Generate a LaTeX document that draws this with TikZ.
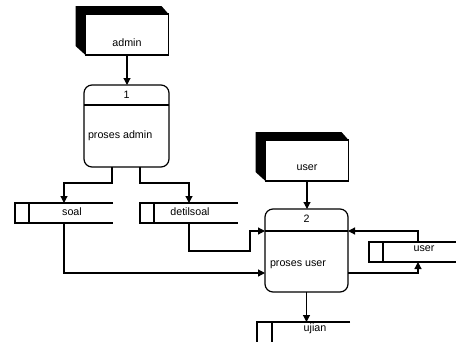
\documentclass[tikz,border=0pt]{standalone}
\usepackage{fontspec}
\setmainfont{Liberation Sans}
\usetikzlibrary{calc,arrows.meta,backgrounds}
\begin{document}
\begin{tikzpicture}[x=1pt,y=-1pt,
  line width=1.2pt,
  every node/.style={font=\fontsize{10.7}{12}\selectfont, inner sep=0pt, outer sep=0pt},
  entbox/.style={draw, fill=white, minimum width=83pt, minimum height=41pt},
  procbox/.style={draw, rounded corners=8pt, minimum width=85pt, minimum height=82pt},
  storebox/.style={minimum height=20pt},
  flow/.style={-{Triangle[length=7pt,width=7pt]}},
]
\useasboundingbox (0,0) rectangle (456,341);
\clip (0,0) rectangle (456,341);

% external entities
\node[entbox] (admin) at (127,34.5) {};
\node at ($(admin.center)+(0,8)$) {admin};
\node[entbox] (uent) at (307,160.5) {};
\node at ($(uent.center)+(0,7)$) {user};
\begin{scope}[on background layer]
\foreach \e in {admin,uent}{
  \fill ($(\e.north west)+(-10,-8)$) -- ($(\e.north east)+(-7,-8)$) -- (\e.north east)
        -- (\e.north west) -- (\e.south west) -- ($(\e.south west)+(-10,-9)$) -- cycle;
}
\end{scope}

% processes
\node[procbox] (p1) at (126.5,126) {};
\draw ($(p1.north west)+(0,20)$) -- ($(p1.north east)+(0,20)$);
\node at ($(p1.north)+(0,10)$) {1};
\node[anchor=west] at ($(p1.west)+(4,10)$) {proses admin};

\node[procbox, minimum width=83pt, minimum height=83pt] (p2) at (306.5,250.5) {};
\draw ($(p2.north west)+(0,22)$) -- ($(p2.north east)+(0,22)$);
\node at ($(p2.north)+(0,10)$) {2};
\node[anchor=west] at ($(p2.west)+(5,14)$) {proses user};

% data stores
\node[storebox, minimum width=98pt] (soal) at (64,213) {};
\draw (soal.north east) -- (soal.north west) -- (soal.south west) -- (soal.south east);
\draw ($(soal.north west)+(14,0)$) -- ($(soal.south west)+(14,0)$);
\node at (72,212) {soal};

\node[storebox, minimum width=98pt] (dsoal) at (189,213) {};
\draw (dsoal.north east) -- (dsoal.north west) -- (dsoal.south west) -- (dsoal.south east);
\draw ($(dsoal.north west)+(14,0)$) -- ($(dsoal.south west)+(14,0)$);
\node at (190,212) {detilsoal};

\node[storebox, minimum width=92pt] (ustore) at (415,252) {};
\draw (ustore.north east) -- (ustore.north west) -- (ustore.south west) -- (ustore.south east);
\draw ($(ustore.north west)+(14,0)$) -- ($(ustore.south west)+(14,0)$);
\node at (424,249) {user};

\node[storebox, minimum width=93pt, minimum height=30pt] (ujian) at (303.5,337) {};
\draw (ujian.north east) -- (ujian.north west) -- (ujian.south west);
\draw ($(ujian.north west)+(15,0)$) -- ($(ujian.south west)+(15,0)$);
\node at (315,329) {ujian};

% flows
\coordinate (bend) at (250,251);
\draw[flow] (admin.south) -- (admin.south |- p1.north);
\draw[flow] ($(p1.south)+(-14.5,0)$) -- ++(0,16) -| (soal.north);
\draw[flow] ($(p1.south)+(13.5,0)$) -- ++(0,16) -| (dsoal.north);
\draw[flow] (soal.south) |- ($(p2.west)+(0,22.5)$);
\draw[flow] (dsoal.south) |- (bend) |- ($(p2.north west)+(0,22)$);
\draw[flow] (uent.south) -- (uent.south |- p2.north);
\draw[flow] ($(ustore.north west)+(49,0)$) |- ($(p2.north east)+(0,22)$);
\draw[flow] ($(p2.east)+(0,22.5)$) -| ($(ustore.south west)+(49,0)$);
\draw[flow] (p2.south) -- (p2.south |- ujian.north);
\end{tikzpicture}
\end{document}
